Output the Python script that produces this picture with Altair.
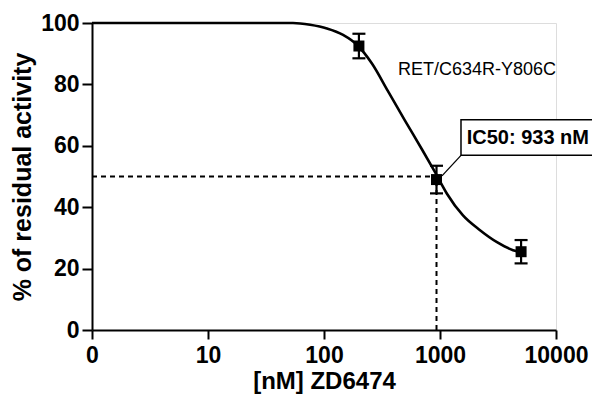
import altair as alt
import pandas as pd

# measured data points (nM, % residual activity, error)
conc = [200, 933, 5000]
activity = [92.5, 49.0, 25.5]
err = [4.0, 4.5, 3.8]

# fitted dose-response curve
curve_x = [1, 54, 76, 106, 146, 196, 259, 356, 499, 700, 906, 1148, 1578, 2213, 3100, 4260, 4900]
curve_y = [100, 100, 99.4, 98.2, 96.1, 92.6, 86.8, 77.8, 68.2, 58.8, 51.4, 44.4, 37.3, 32.5, 28.6, 26.0, 25.4]

# IC50 guide lines
ic50 = 933
half = 50
x_min = 1

x_ticks = [1, 10, 100, 1000, 10000]
y_ticks = [0, 20, 40, 60, 80, 100]

series_label = "RET/C634R-Y806C"
series_label_pos = [434, 83]
ic50_text = "IC50: 933 nM"
ic50_box = [1517, 24500, 56.9, 68.5]   # x, x2, y, y2
ic50_text_pos = [1700, 62.5]
connector = [[1517, 56.9], [1040, 50.2]]

FONT = "Liberation Sans"

pts = pd.DataFrame({"c": conc, "a": activity,
                    "lo": [a - e for a, e in zip(activity, err)],
                    "hi": [a + e for a, e in zip(activity, err)]})
curve = pd.DataFrame({"c": curve_x, "a": curve_y})

xs = alt.Scale(type="log", domain=[1, 10000])
ys = alt.Scale(domain=[0, 100])

xax = alt.Axis(values=x_ticks, labelExpr="datum.value < 2 ? '0' : format(datum.value, 'd')",
               title="[nM] ZD6474", titleFontSize=24, titleFontWeight="bold", titleFont=FONT,
               labelFontSize=23, labelFontWeight="bold", labelFont=FONT, labelColor="black",
               titleColor="black", tickSize=9, tickWidth=2, tickColor="black",
               domainWidth=2, domainColor="black", grid=False, labelPadding=5,
               titlePadding=2, labelFlush=False, labelOverlap=False)
yax = alt.Axis(values=y_ticks, title="% of residual activity", titleFontSize=25,
               titleFontWeight="bold", titleFont=FONT, labelFontSize=23, labelFontWeight="bold",
               labelFont=FONT, labelColor="black", titleColor="black", tickSize=10, tickWidth=2,
               tickColor="black", domainWidth=2, domainColor="black", grid=False,
               labelPadding=3, titlePadding=5)

line = alt.Chart(curve).mark_line(color="black", strokeWidth=2.6, interpolate="monotone").encode(
    x=alt.X("c:Q", scale=xs, axis=xax), y=alt.Y("a:Q", scale=ys, axis=yax))

hdash = alt.Chart(pd.DataFrame({"x": [x_min], "x2": [ic50], "y": [half]})).mark_rule(
    color="black", strokeWidth=2, strokeDash=[5, 4]).encode(
    x=alt.X("x:Q", scale=xs), x2="x2:Q", y=alt.Y("y:Q", scale=ys))
vdash = alt.Chart(pd.DataFrame({"x": [ic50], "y": [0], "y2": [half]})).mark_rule(
    color="black", strokeWidth=2, strokeDash=[5, 4]).encode(
    x=alt.X("x:Q", scale=xs), y=alt.Y("y:Q", scale=ys), y2="y2:Q")

ebar = alt.Chart(pts).mark_rule(color="black", strokeWidth=2.2).encode(
    x=alt.X("c:Q", scale=xs), y=alt.Y("lo:Q", scale=ys), y2="hi:Q")
cap_lo = alt.Chart(pts).mark_tick(color="black", orient="horizontal", size=13, thickness=2.2, opacity=1).encode(
    x=alt.X("c:Q", scale=xs), y=alt.Y("lo:Q", scale=ys))
cap_hi = alt.Chart(pts).mark_tick(color="black", orient="horizontal", size=13, thickness=2.2, opacity=1).encode(
    x=alt.X("c:Q", scale=xs), y=alt.Y("hi:Q", scale=ys))
sq = alt.Chart(pts).mark_square(color="black", size=121, opacity=1).encode(
    x=alt.X("c:Q", scale=xs), y=alt.Y("a:Q", scale=ys))

conn = alt.Chart(pd.DataFrame({"x": [connector[0][0]], "y": [connector[0][1]],
                               "x2": [connector[1][0]], "y2": [connector[1][1]]})).mark_rule(
    color="black", strokeWidth=1.3).encode(
    x=alt.X("x:Q", scale=xs), y=alt.Y("y:Q", scale=ys), x2="x2:Q", y2="y2:Q")
box = alt.Chart(pd.DataFrame({"x": [ic50_box[0]], "x2": [ic50_box[1]],
                              "y": [ic50_box[2]], "y2": [ic50_box[3]]})).mark_rect(
    fill="white", stroke="black", strokeWidth=1.5).encode(
    x=alt.X("x:Q", scale=xs), x2="x2:Q", y=alt.Y("y:Q", scale=ys), y2="y2:Q")
btxt = alt.Chart(pd.DataFrame({"x": [ic50_text_pos[0]], "y": [ic50_text_pos[1]], "t": [ic50_text]})).mark_text(
    align="left", baseline="middle", font=FONT, fontSize=20, fontWeight="bold", color="black").encode(
    x=alt.X("x:Q", scale=xs), y=alt.Y("y:Q", scale=ys), text="t:N")
stxt = alt.Chart(pd.DataFrame({"x": [series_label_pos[0]], "y": [series_label_pos[1]], "t": [series_label]})).mark_text(
    align="left", baseline="alphabetic", font=FONT, fontSize=18, color="black").encode(
    x=alt.X("x:Q", scale=xs), y=alt.Y("y:Q", scale=ys), text="t:N")

chart = alt.layer(hdash, vdash, line, ebar, cap_lo, cap_hi, sq, conn, box, btxt, stxt).properties(
    width=464, height=307,
    autosize=alt.AutoSizeParams(type="none"),
    padding={"left": 84, "top": 15, "right": 36, "bottom": 68},
).configure_view(stroke=None).configure(background="white")

chart.save("out.html", embed_options={"renderer": "svg", "actions": False})
